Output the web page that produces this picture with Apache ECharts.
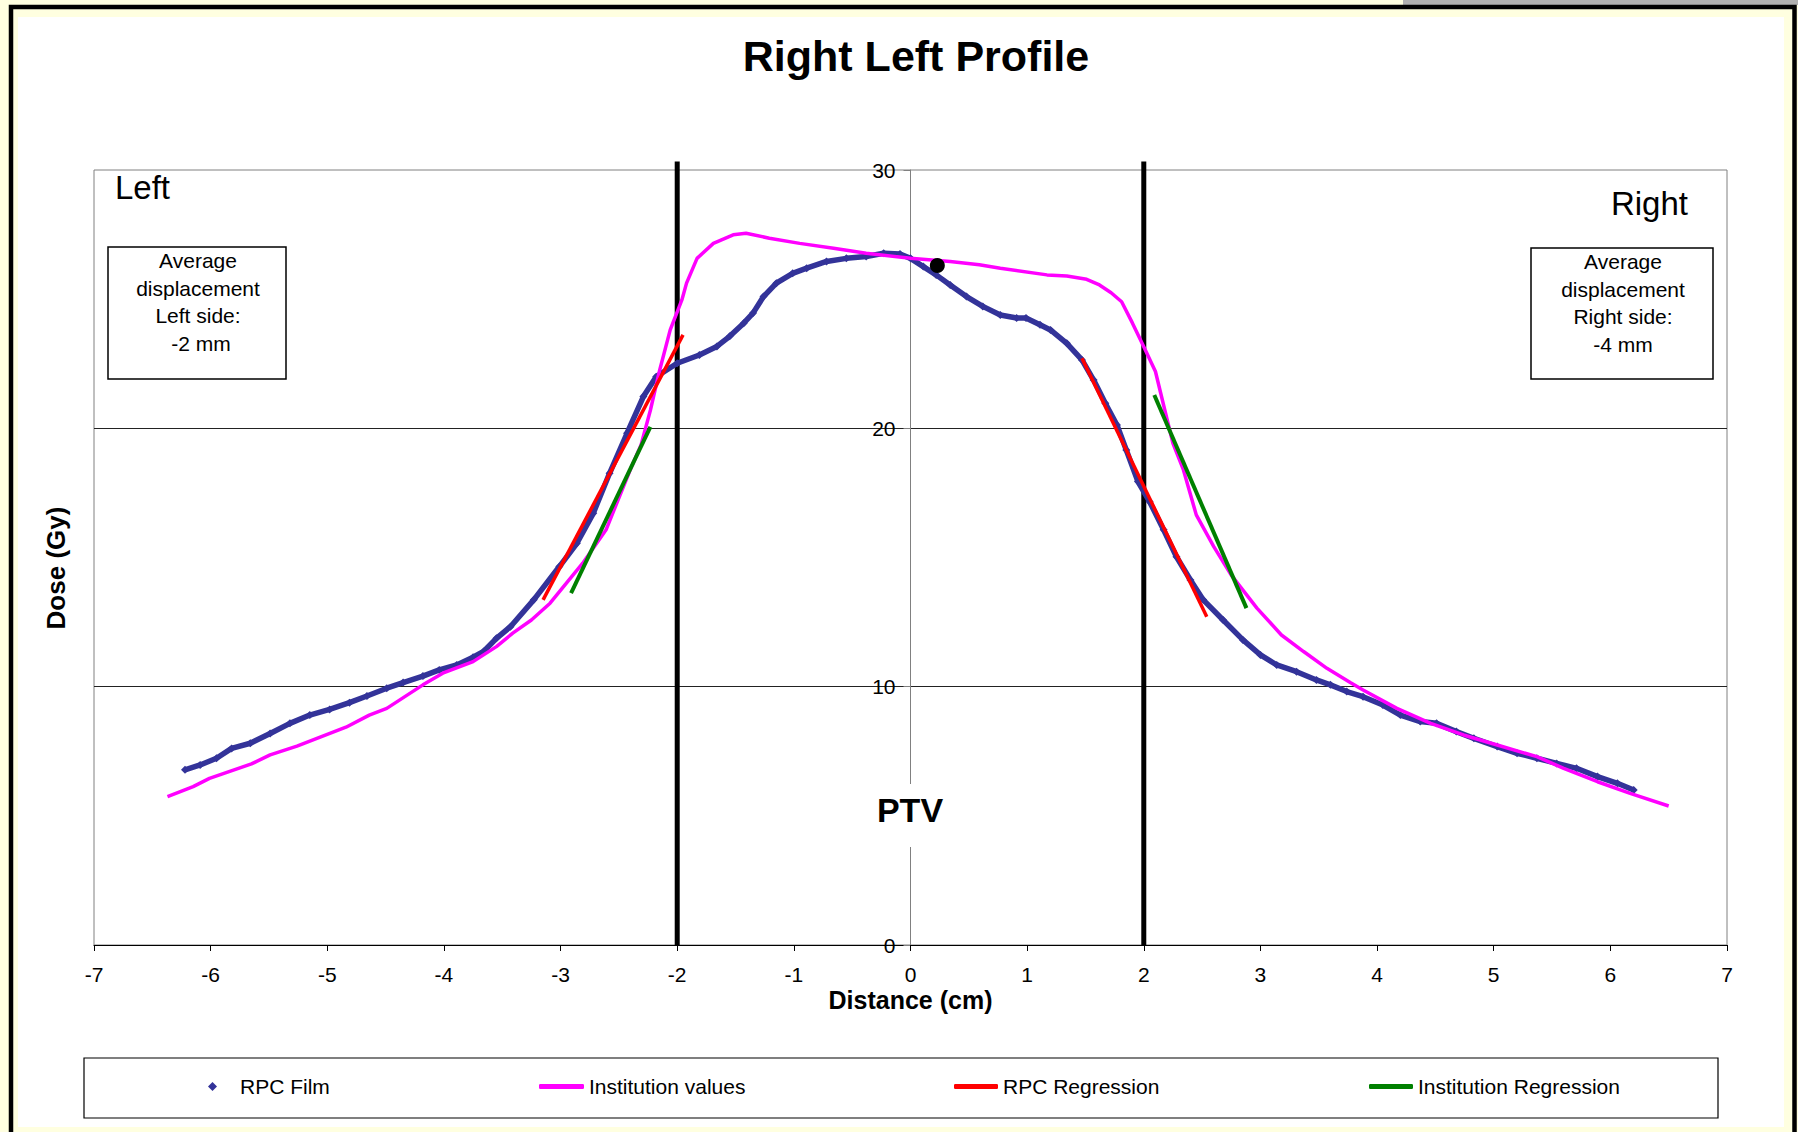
<!DOCTYPE html>
<html>
<head>
<meta charset="utf-8">
<script src="https://cdn.jsdelivr.net/npm/echarts@6/dist/echarts.min.js"></script>
<style>
html,body{margin:0;padding:0;background:#FFFFE0;}
#chart{width:1798px;height:1132px;}
</style>
</head>
<body>
<div id="chart"></div>
<script>
// ---------- data ----------
const xRange = { min: -7, max: 7, interval: 1 };
const yRange = { min: 0, max: 30, interval: 10 };

const rpcFilm = [
  [-6.22,6.78],[-6.09,6.97],[-5.95,7.23],[-5.82,7.61],[-5.66,7.81],[-5.49,8.19],[-5.32,8.58],
  [-5.15,8.90],[-4.98,9.12],[-4.81,9.38],[-4.66,9.64],[-4.49,9.94],[-4.35,10.16],[-4.18,10.41],
  [-4.04,10.65],[-3.89,10.84],[-3.75,11.14],[-3.66,11.36],[-3.55,11.87],[-3.43,12.32],
  [-3.23,13.36],[-3.01,14.65],[-2.86,15.55],[-2.72,16.71],[-2.58,18.26],[-2.43,19.81],
  [-2.29,21.23],[-2.18,22.00],[-2.00,22.52],[-1.81,22.84],[-1.66,23.17],[-1.55,23.56],
  [-1.43,24.07],[-1.35,24.46],[-1.26,25.10],[-1.15,25.62],[-1.01,26.00],[-0.89,26.20],
  [-0.72,26.46],[-0.55,26.58],[-0.38,26.65],[-0.23,26.78],[-0.09,26.75],[0.00,26.58],
  [0.11,26.26],[0.22,25.94],[0.34,25.55],[0.48,25.10],[0.62,24.72],[0.77,24.39],[0.91,24.27],
  [0.99,24.27],[1.11,24.01],[1.20,23.81],[1.34,23.29],[1.47,22.65],[1.57,21.87],[1.67,20.97],
  [1.77,20.13],[1.85,19.16],[1.95,17.94],[2.05,17.16],[2.17,16.07],[2.28,15.03],[2.40,14.13],
  [2.51,13.36],[2.68,12.58],[2.85,11.81],[3.00,11.23],[3.14,10.84],[3.31,10.58],[3.48,10.26],
  [3.60,10.07],[3.74,9.81],[3.88,9.61],[4.05,9.29],[4.20,8.90],[4.37,8.65],[4.51,8.58],
  [4.68,8.26],[4.83,8.00],[5.03,7.68],[5.20,7.42],[5.37,7.23],[5.54,7.03],[5.71,6.84],
  [5.89,6.52],[6.06,6.26],[6.20,6.00]
];

const institutionValues = [
  [-6.37,5.74],[-6.15,6.13],[-6.01,6.45],[-5.65,7.01],[-5.49,7.36],[-5.26,7.70],[-4.84,8.43],
  [-4.64,8.90],[-4.49,9.16],[-4.18,10.07],[-4.01,10.52],[-3.75,10.97],[-3.55,11.55],[-3.41,12.07],
  [-3.25,12.58],[-3.09,13.23],[-2.81,14.78],[-2.61,16.07],[-2.41,18.32],[-2.31,19.36],
  [-2.23,20.70],[-2.15,22.26],[-2.06,23.81],[-1.96,24.97],[-1.92,25.62],[-1.83,26.58],
  [-1.69,27.16],[-1.52,27.49],[-1.41,27.55],[-1.21,27.36],[-0.95,27.16],[-0.66,26.97],
  [-0.38,26.78],[0.00,26.58],[0.34,26.46],[0.59,26.33],[0.77,26.20],[1.17,25.94],[1.34,25.90],
  [1.51,25.77],[1.62,25.55],[1.72,25.25],[1.81,24.90],[1.90,24.10],[2.00,23.16],[2.10,22.20],
  [2.18,20.71],[2.25,19.42],[2.34,18.39],[2.45,16.65],[2.60,15.42],[2.75,14.32],[2.97,13.04],
  [3.18,12.00],[3.37,11.36],[3.57,10.71],[3.77,10.16],[3.88,9.87],[4.17,9.16],[4.46,8.58],
  [4.74,8.13],[5.03,7.74],[5.37,7.29],[5.60,6.84],[5.89,6.32],[6.17,5.87],[6.50,5.38]
];

const rpcRegressionLeft  = [[-3.15,13.36],[-1.95,23.62]];
const rpcRegressionRight = [[1.47,22.71],[2.54,12.71]];
const instRegressionLeft  = [[-2.91,13.62],[-2.23,20.06]];
const instRegressionRight = [[2.09,21.29],[2.88,13.04]];

const ptvEdges = [-2, 2];
const ptvLineTop = 30.33;
const centralPoint = [[0.23, 26.3]];

const legendNames = ['RPC Film', 'Institution values', 'RPC Regression', 'Institution Regression'];

// ---------- chart ----------
const FONT = 'Liberation Sans, Arial, sans-serif';
const GRID = { left: 94, right: 71, top: 170, bottom: 187 };
const plotWidth = 1798 - GRID.left - GRID.right;
// shift the value axis so that it crosses the x axis at x = 0
const yAxisOffset = -plotWidth * (0 - xRange.min) / (xRange.max - xRange.min);

const chart = echarts.init(document.getElementById('chart'), null, { renderer: 'svg' });

const legendBase = {
  top: 1076, padding: 0, orient: 'horizontal', selectedMode: false,
  textStyle: { fontSize: 21, color: '#000', fontFamily: FONT }
};

const option = {
  animation: false,
  backgroundColor: '#FFFFE0',
  grid: Object.assign({
    show: true, backgroundColor: '#ffffff', borderColor: '#808080', borderWidth: 1
  }, GRID),
  xAxis: {
    type: 'value', min: xRange.min, max: xRange.max, interval: xRange.interval,
    name: 'Distance (cm)', nameLocation: 'middle', nameGap: 42, nameMoveOverlap: false,
    nameTextStyle: { fontSize: 25, fontWeight: 'bold', color: '#000', fontFamily: FONT },
    axisLine: { onZero: false, lineStyle: { color: '#000', width: 1.2 } },
    axisTick: { show: true, length: 6, lineStyle: { color: '#000' } },
    axisLabel: { margin: 19, fontSize: 21, color: '#000', fontFamily: FONT },
    splitLine: { show: false }
  },
  yAxis: {
    type: 'value', min: yRange.min, max: yRange.max, interval: yRange.interval,
    position: 'left', offset: yAxisOffset,
    axisLine: { show: true, onZero: false, lineStyle: { color: '#808080', width: 1 } },
    axisTick: { show: true, length: 7, lineStyle: { color: '#808080' } },
    axisLabel: { margin: 15, fontSize: 21, color: '#000', fontFamily: FONT },
    splitLine: { show: true, showMinLine: false, showMaxLine: false, lineStyle: { color: '#222', width: 1 } }
  },
  legend: [
    Object.assign({}, legendBase, {
      left: 208, itemWidth: 9, itemHeight: 9,
      data: [{ name: legendNames[0], icon: 'diamond' }],
      textStyle: { fontSize: 21, color: '#000', fontFamily: FONT, padding: [0, 0, 0, 18] }
    }),
    Object.assign({}, legendBase, {
      left: 539, itemWidth: 45, itemHeight: 5,
      data: [{ name: legendNames[1], icon: 'roundRect' }]
    }),
    Object.assign({}, legendBase, {
      left: 954, itemWidth: 44, itemHeight: 5,
      data: [{ name: legendNames[2], icon: 'roundRect' }]
    }),
    Object.assign({}, legendBase, {
      left: 1369, itemWidth: 44, itemHeight: 5,
      data: [{ name: legendNames[3], icon: 'roundRect' }]
    })
  ],
  series: [
    ...ptvEdges.map(e => ({
      type: 'line', data: [[e, yRange.min], [e, ptvLineTop]], clip: false, symbol: 'none',
      silent: true, lineStyle: { color: '#000', width: 5 }, z: 1
    })),
    {
      name: legendNames[0], type: 'line', data: rpcFilm, symbol: 'diamond', symbolSize: 8,
      showSymbol: true, color: '#333399', itemStyle: { color: '#333399' },
      lineStyle: { color: '#333399', width: 5.5 }, z: 3
    },
    {
      name: legendNames[1], type: 'line', data: institutionValues, symbol: 'none',
      color: '#FF00FF', lineStyle: { color: '#FF00FF', width: 3.5 }, z: 4
    },
    {
      name: legendNames[2], type: 'line', data: rpcRegressionLeft, symbol: 'none',
      color: '#FF0000', lineStyle: { color: '#FF0000', width: 3.5 }, z: 5
    },
    {
      name: legendNames[2], type: 'line', data: rpcRegressionRight, symbol: 'none',
      color: '#FF0000', lineStyle: { color: '#FF0000', width: 3.5 }, z: 5
    },
    {
      name: legendNames[3], type: 'line', data: instRegressionLeft, symbol: 'none',
      color: '#008000', lineStyle: { color: '#008000', width: 4 }, z: 5
    },
    {
      name: legendNames[3], type: 'line', data: instRegressionRight, symbol: 'none',
      color: '#008000', lineStyle: { color: '#008000', width: 4 }, z: 5
    },
    {
      type: 'scatter', data: centralPoint, symbol: 'circle', symbolSize: 15,
      itemStyle: { color: '#000', opacity: 1 }, z: 6, silent: true
    }
  ],
  graphic: [
    // outer frame
    { type: 'rect', z: -100, shape: { x: 1403, y: 0, width: 395, height: 5 }, style: { fill: '#B0B0B0' } },
    { type: 'rect', z: -99, shape: { x: 11, y: 7, width: 1783.5, height: 1200 }, style: { fill: '#FFFFE0', stroke: '#000', lineWidth: 4.5 } },
    { type: 'rect', z: -98, shape: { x: 18, y: 17, width: 1766, height: 1110 }, style: { fill: '#ffffff' } },
    // legend frame
    { type: 'rect', z: 50, shape: { x: 84, y: 1058, width: 1634, height: 60 }, style: { fill: 'none', stroke: '#000', lineWidth: 1.2 } },
    // title
    { type: 'text', z: 100, style: { text: 'Right Left Profile', x: 916, y: 56, textAlign: 'center', textVerticalAlign: 'middle', fill: '#000', font: 'bold 43px ' + FONT } },
    // y axis name
    { type: 'text', z: 100, x: 56, y: 568, rotation: Math.PI / 2, style: { text: 'Dose (Gy)', x: 0, y: 0, textAlign: 'center', textVerticalAlign: 'middle', fill: '#000', font: 'bold 26px ' + FONT } },
    // Left / Right
    { type: 'text', z: 100, style: { text: 'Left', x: 115, y: 187, textAlign: 'left', textVerticalAlign: 'middle', fill: '#000', font: '33px ' + FONT } },
    { type: 'text', z: 100, style: { text: 'Right', x: 1688, y: 203, textAlign: 'right', textVerticalAlign: 'middle', fill: '#000', font: '33px ' + FONT } },
    // boxes
    { type: 'rect', z: 100, shape: { x: 108, y: 247, width: 178, height: 132 }, style: { fill: '#fff', stroke: '#000', lineWidth: 1.5 } },
    { type: 'text', z: 101, style: { text: 'Average\ndisplacement\nLeft side:\n -2 mm', x: 198, y: 247, textAlign: 'center', textVerticalAlign: 'top', lineHeight: 27.5, fill: '#000', font: '21px ' + FONT } },
    { type: 'rect', z: 100, shape: { x: 1531, y: 248, width: 182, height: 131 }, style: { fill: '#fff', stroke: '#000', lineWidth: 1.5 } },
    { type: 'text', z: 101, style: { text: 'Average\ndisplacement\nRight side:\n-4 mm', x: 1623, y: 248, textAlign: 'center', textVerticalAlign: 'top', lineHeight: 27.5, fill: '#000', font: '21px ' + FONT } },
    // PTV label
    { type: 'rect', z: 100, shape: { x: 870, y: 784, width: 82, height: 63 }, style: { fill: '#fff' } },
    { type: 'text', z: 101, style: { text: 'PTV', x: 910, y: 810, textAlign: 'center', textVerticalAlign: 'middle', fill: '#000', font: 'bold 34px ' + FONT } }
  ]
};

chart.setOption(option);
</script>
</body>
</html>
